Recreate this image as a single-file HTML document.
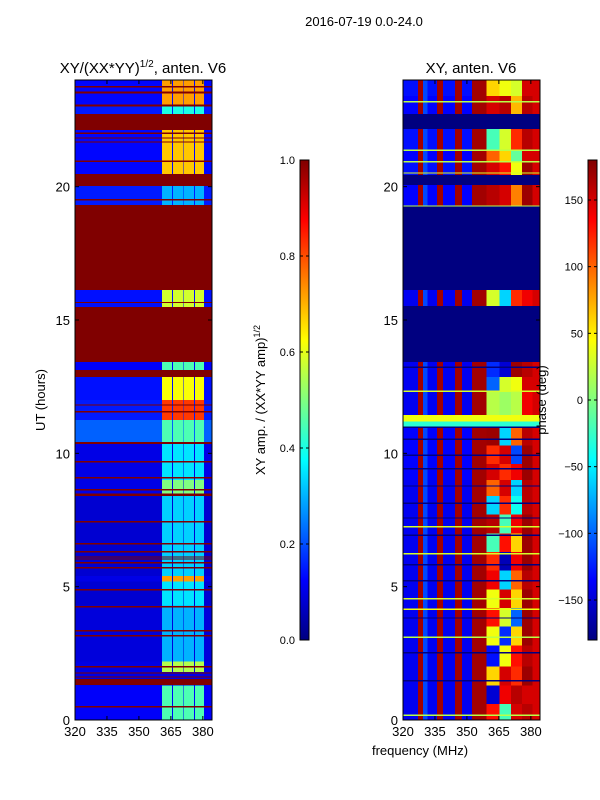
<!DOCTYPE html>
<html><head><meta charset="utf-8"><style>
html,body{margin:0;padding:0;background:#fff;}
svg{display:block;font-family:"Liberation Sans","DejaVu Sans",sans-serif;}
</style></head><body>
<svg id="fig" width="600" height="800" viewBox="0 0 600 800" xmlns="http://www.w3.org/2000/svg">
<rect width="600" height="800" fill="#fff"/>
<text x="364" y="26" font-size="13" text-anchor="middle">2016-07-19 0.0-24.0</text>
<text x="143" y="73" font-size="15" text-anchor="middle">XY/(XX*YY)<tspan font-size="10" dy="-6">1/2</tspan><tspan dy="6">, anten. V6</tspan></text>
<text x="471" y="73" font-size="15" text-anchor="middle">XY, anten. V6</text>
<g id="leftHeat" shape-rendering="crispEdges"></g>
<g id="rightHeat" shape-rendering="crispEdges"></g>
<g id="axes"></g>
<g id="cbars"></g>
<text transform="translate(45,400) rotate(-90)" font-size="13" text-anchor="middle">UT (hours)</text>
<text x="420" y="755" font-size="13" text-anchor="middle">frequency (MHz)</text>
<text transform="translate(265,400) rotate(-90)" font-size="13" text-anchor="middle">XY amp. / (XX*YY amp)<tspan font-size="9" dy="-5">1/2</tspan></text>
<text transform="translate(546,400) rotate(-90)" font-size="13" text-anchor="middle">phase (deg)</text>
</svg>
<script>
// ---- data ----
const fLo = 320, fHi = 384.3;
const xTicks = [320, 335, 350, 365, 380];
const yTicks = [0, 5, 10, 15, 20];
const brightSegs = [[360.8,365.5],[366,370.7],[371,375.8],[376.3,380.5]];
// amplitude bands: [h0, h1, background, bright]
const ampBands = [
 [23.0,24.0,0.13,0.72],[22.73,23.0,0.15,0.4],[20.48,22.13,0.13,0.68],[19.31,20.03,0.15,0.3],
 [15.49,16.13,0.14,0.58],[13.13,13.43,0.12,0.45],[12.0,12.86,0.14,0.62],[11.25,12.0,0.15,0.82],
 [10.42,11.25,0.22,0.45],[9.0,10.35,0.1,0.35],[8.4,9.0,0.1,0.5],[5.4,8.4,0.08,0.33],
 [5.2,5.4,0.1,0.72],[4.3,5.2,0.08,0.35],[2.2,4.3,0.09,0.3],[1.8,2.2,0.1,0.55],[0,1.3,0.12,0.45]
];
// flagged amplitude (value 1.0): [h0, h1]
const ampFlags = [
 [22.13,22.73],[20.03,20.48],[16.13,19.31],[13.43,15.49],[12.86,13.13],[10.35,10.42],
 [23.72,23.78],[23.5,23.56],[23.0,23.08],[21.98,22.03],[21.8,21.85],[21.66,21.7],[20.93,20.98],[19.48,19.53],
 [15.63,15.68],[11.79,11.84],[11.53,11.58],[9.66,9.71],[9.06,9.11],[8.61,8.66],[8.4,8.5],[7.41,7.46],
 [6.58,6.63],[6.28,6.33],[6.09,6.13],[6.02,6.06],[5.87,5.92],[5.68,5.73],[4.86,4.91],[4.22,4.27],
 [3.32,3.37],[3.13,3.18],[1.97,2.02],[1.74,1.79],[1.59,1.64],[1.31,1.54],[0.47,0.52]
];
const ampScale = [0, 0.2, 0.4, 0.6, 0.8, 1.0];
// phase
const streakCols = [[327,329.4],[336,338.7],[344.4,347.7],[352.3,359.3]];
const streakPhase = 168;
const lightCols = [[328.8,331.5]];
const lightPhase = -110;
const tailSeg = [380.8,384.3];
const tailPhase = 150;
const mixSegs = [[359.3,365.3],[365.3,370.8],[370.8,375.8],[375.8,380.8]];
// phase bands: [h0, h1, background, m1, m2, m3, m4]
const phaseBands = [
 [23.4,24,-130,60,40,30,150],[22.73,23.4,-135,150,160,70,160],[21.4,22.16,-130,-20,30,120,160],
 [20.9,21.4,-135,100,60,-10,150],[20.44,20.9,-130,150,130,40,170],[19.28,20.06,-135,160,150,90,170],
 [15.53,16.13,-140,30,-60,120,140],[12.86,13.43,-140,-120,-150,170,160],[12.3,12.86,-140,-100,30,40,150],
 [11.44,12.3,-140,20,10,20,140],[10.3,10.95,-135,170,-60,100,160],[9.6,10.3,-135,120,150,-110,170],
 [9.0,9.6,-135,150,120,140,170],[8.4,9.0,-140,100,150,-60,160],[7.7,8.4,-140,-60,120,-40,160],
 [7.0,7.7,-140,160,-20,140,170],[6.3,7.0,-140,-20,130,60,170],[5.6,6.3,-140,120,-160,140,170],
 [4.9,5.6,-140,140,-60,100,160],[4.2,4.9,-140,40,150,60,170],[3.5,4.2,-140,130,30,-100,170],
 [2.8,3.5,-140,40,-120,60,170],[2.0,2.8,-140,-130,40,130,160],[1.3,2.0,-140,60,150,120,170],
 [0.6,1.3,-140,-150,140,160,150],[0,0.6,-140,130,-20,150,160]
];
// flagged phase rows (-180): [h0, h1]
const phaseFlags = [[22.16,22.73],[20.06,20.44],[16.13,19.28],[13.43,15.53],[10.95,11.0]];
// full-width phase lines: [h0, h1, phase]
const phaseLines = [
 [23.15,23.22,20],[21.34,21.4,20],[20.9,20.96,20],[20.49,20.54,30],[19.25,19.3,20],[13.2,13.25,-180],
 [12.3,12.36,30],[11.2,11.44,40],[11.0,11.2,-30],[7.21,7.27,30],[6.2,6.26,30],[4.51,4.57,30],
 [4.13,4.19,40],[3.08,3.14,20],[0.15,0.2,20],
 [10.5,10.55,-180],[9.9,9.95,-180],[9.4,9.45,-180],[8.75,8.8,-180],[8.1,8.15,-180],[7.55,7.6,-180],
 [6.9,6.95,-180],[5.8,5.85,-180],[5.2,5.25,-180],[3.8,3.85,-180],[2.5,2.55,-180],[1.45,1.5,-180]
];
const phaseTicks = [-150, -100, -50, 0, 50, 100, 150];

// ---- helpers ----
const NS = "http://www.w3.org/2000/svg";
function jet(v){v=Math.max(0,Math.min(1,v));const c=x=>Math.round(255*Math.max(0,Math.min(1,x)));
 return `rgb(${c(1.5-Math.abs(4*v-3))},${c(1.5-Math.abs(4*v-2))},${c(1.5-Math.abs(4*v-1))})`;}
const panels = {L:{x0:75,x1:212}, R:{x0:403,x1:540}};
const yTop=80, yBot=720;
const yS = h => yBot - h*(yBot-yTop)/24;
const xS = (p,f) => panels[p].x0 + (f-fLo)*(panels[p].x1-panels[p].x0)/(fHi-fLo);
const pv = p => (p+180)/360;
function rect(g,x,y,w,h,fill){const r=document.createElementNS(NS,"rect");
 r.setAttribute("x",x);r.setAttribute("y",y);r.setAttribute("width",Math.max(w,0));r.setAttribute("height",Math.max(h,0));r.setAttribute("fill",fill);g.appendChild(r);return r;}
function cell(g,p,f0,f1,h0,h1,fill){return rect(g,xS(p,f0),yS(h1),xS(p,f1)-xS(p,f0),yS(h0)-yS(h1),fill);}

// ---- left heatmap ----
const L=document.getElementById("leftHeat");
rect(L,75,80,137,640,jet(0.1));
ampBands.forEach(b=>{
 const r=cell(L,"L",fLo,fHi,b[0],b[1],jet(b[2]));
 
 
 brightSegs.forEach(s=>{const c=cell(L,"L",s[0],s[1],b[0],b[1],jet(b[3]));
  
  });
});
ampFlags.forEach(f=>{const r=cell(L,"L",fLo,fHi,f[0],f[1],jet(1));
 
 });

// ---- right heatmap ----
const R=document.getElementById("rightHeat");
rect(R,403,80,137,640,jet(pv(-140)));
phaseBands.forEach(b=>{
 const r=cell(R,"R",fLo,fHi,b[0],b[1],jet(pv(b[2])));
 
 
 lightCols.forEach(s=>{const c=cell(R,"R",s[0],s[1],b[0],b[1],jet(pv(lightPhase)));
  
  });
 streakCols.forEach(s=>{const c=cell(R,"R",s[0],s[1],b[0],b[1],jet(pv(streakPhase)));
  
  });
 mixSegs.forEach((s,i)=>{const c=cell(R,"R",s[0],s[1],b[0],b[1],jet(pv(b[3+i])));
  
  });
 const t=cell(R,"R",tailSeg[0],tailSeg[1],b[0],b[1],jet(pv(tailPhase)));
 
 
});
phaseFlags.forEach(f=>{const r=cell(R,"R",fLo,fHi,f[0],f[1],jet(0));
 
 });
phaseLines.forEach(f=>{const r=cell(R,"R",fLo,fHi,f[0],f[1],jet(pv(f[2])));
 
 });

// ---- axes ----
const A=document.getElementById("axes");
function line(g,x1,y1,x2,y2,w){const l=document.createElementNS(NS,"line");
 l.setAttribute("x1",x1);l.setAttribute("y1",y1);l.setAttribute("x2",x2);l.setAttribute("y2",y2);
 l.setAttribute("stroke","#000");l.setAttribute("stroke-width",w||1);g.appendChild(l);return l;}
function text(g,x,y,s,anchor,size){const t=document.createElementNS(NS,"text");
 t.setAttribute("x",x);t.setAttribute("y",y);t.setAttribute("font-size",size||13);t.setAttribute("text-anchor",anchor||"middle");
 t.textContent=s;g.appendChild(t);return t;}
["L","R"].forEach(p=>{
 const P=panels[p];
 const fr=rect(A,P.x0,yTop,P.x1-P.x0,yBot-yTop,"none");
 fr.setAttribute("stroke","#000");
 
 
 xTicks.forEach(f=>{const x=xS(p,f);line(A,x,yBot,x,yBot-4);line(A,x,yTop,x,yTop+4);
  const t=text(A,x,yBot+16,String(f));
  
  });
 yTicks.forEach(h=>{const y=yS(h);line(A,P.x0,y,P.x0+4,y);line(A,P.x1,y,P.x1-4,y);
  const t=text(A,P.x0-5,y+5,String(h),"end");
  
  });
});

// ---- colorbars ----
const C=document.getElementById("cbars");
const defs=document.createElementNS(NS,"defs");C.appendChild(defs);
const grad=document.createElementNS(NS,"linearGradient");
grad.setAttribute("id","jetg");grad.setAttribute("x1","0");grad.setAttribute("y1","1");grad.setAttribute("x2","0");grad.setAttribute("y2","0");
for(let i=0;i<=32;i++){const s=document.createElementNS(NS,"stop");s.setAttribute("offset",i/32);s.setAttribute("stop-color",jet(i/32));grad.appendChild(s);}
defs.appendChild(grad);
const cbTop=160, cbBot=640;
[[300,"amp"],[588,"phase"]].forEach(([x,kind])=>{
 const r=rect(C,x,cbTop,9,cbBot-cbTop,"url(#jetg)");
 r.setAttribute("stroke","#000");
 
 
});
ampScale.forEach(v=>{const y=cbBot-v*(cbBot-cbTop);line(C,300,y,303,y);line(C,309,y,306,y);
 const t=text(C,295,y+4,v.toFixed(1),"end",11);
 
 });
phaseTicks.forEach(v=>{const y=cbBot-pv(v)*(cbBot-cbTop);line(C,588,y,591,y);line(C,597,y,594,y);
 const t=text(C,583,y+4,v<0?"\u2212"+Math.abs(v):String(v),"end",11);
 
 });
</script>
</body></html>
